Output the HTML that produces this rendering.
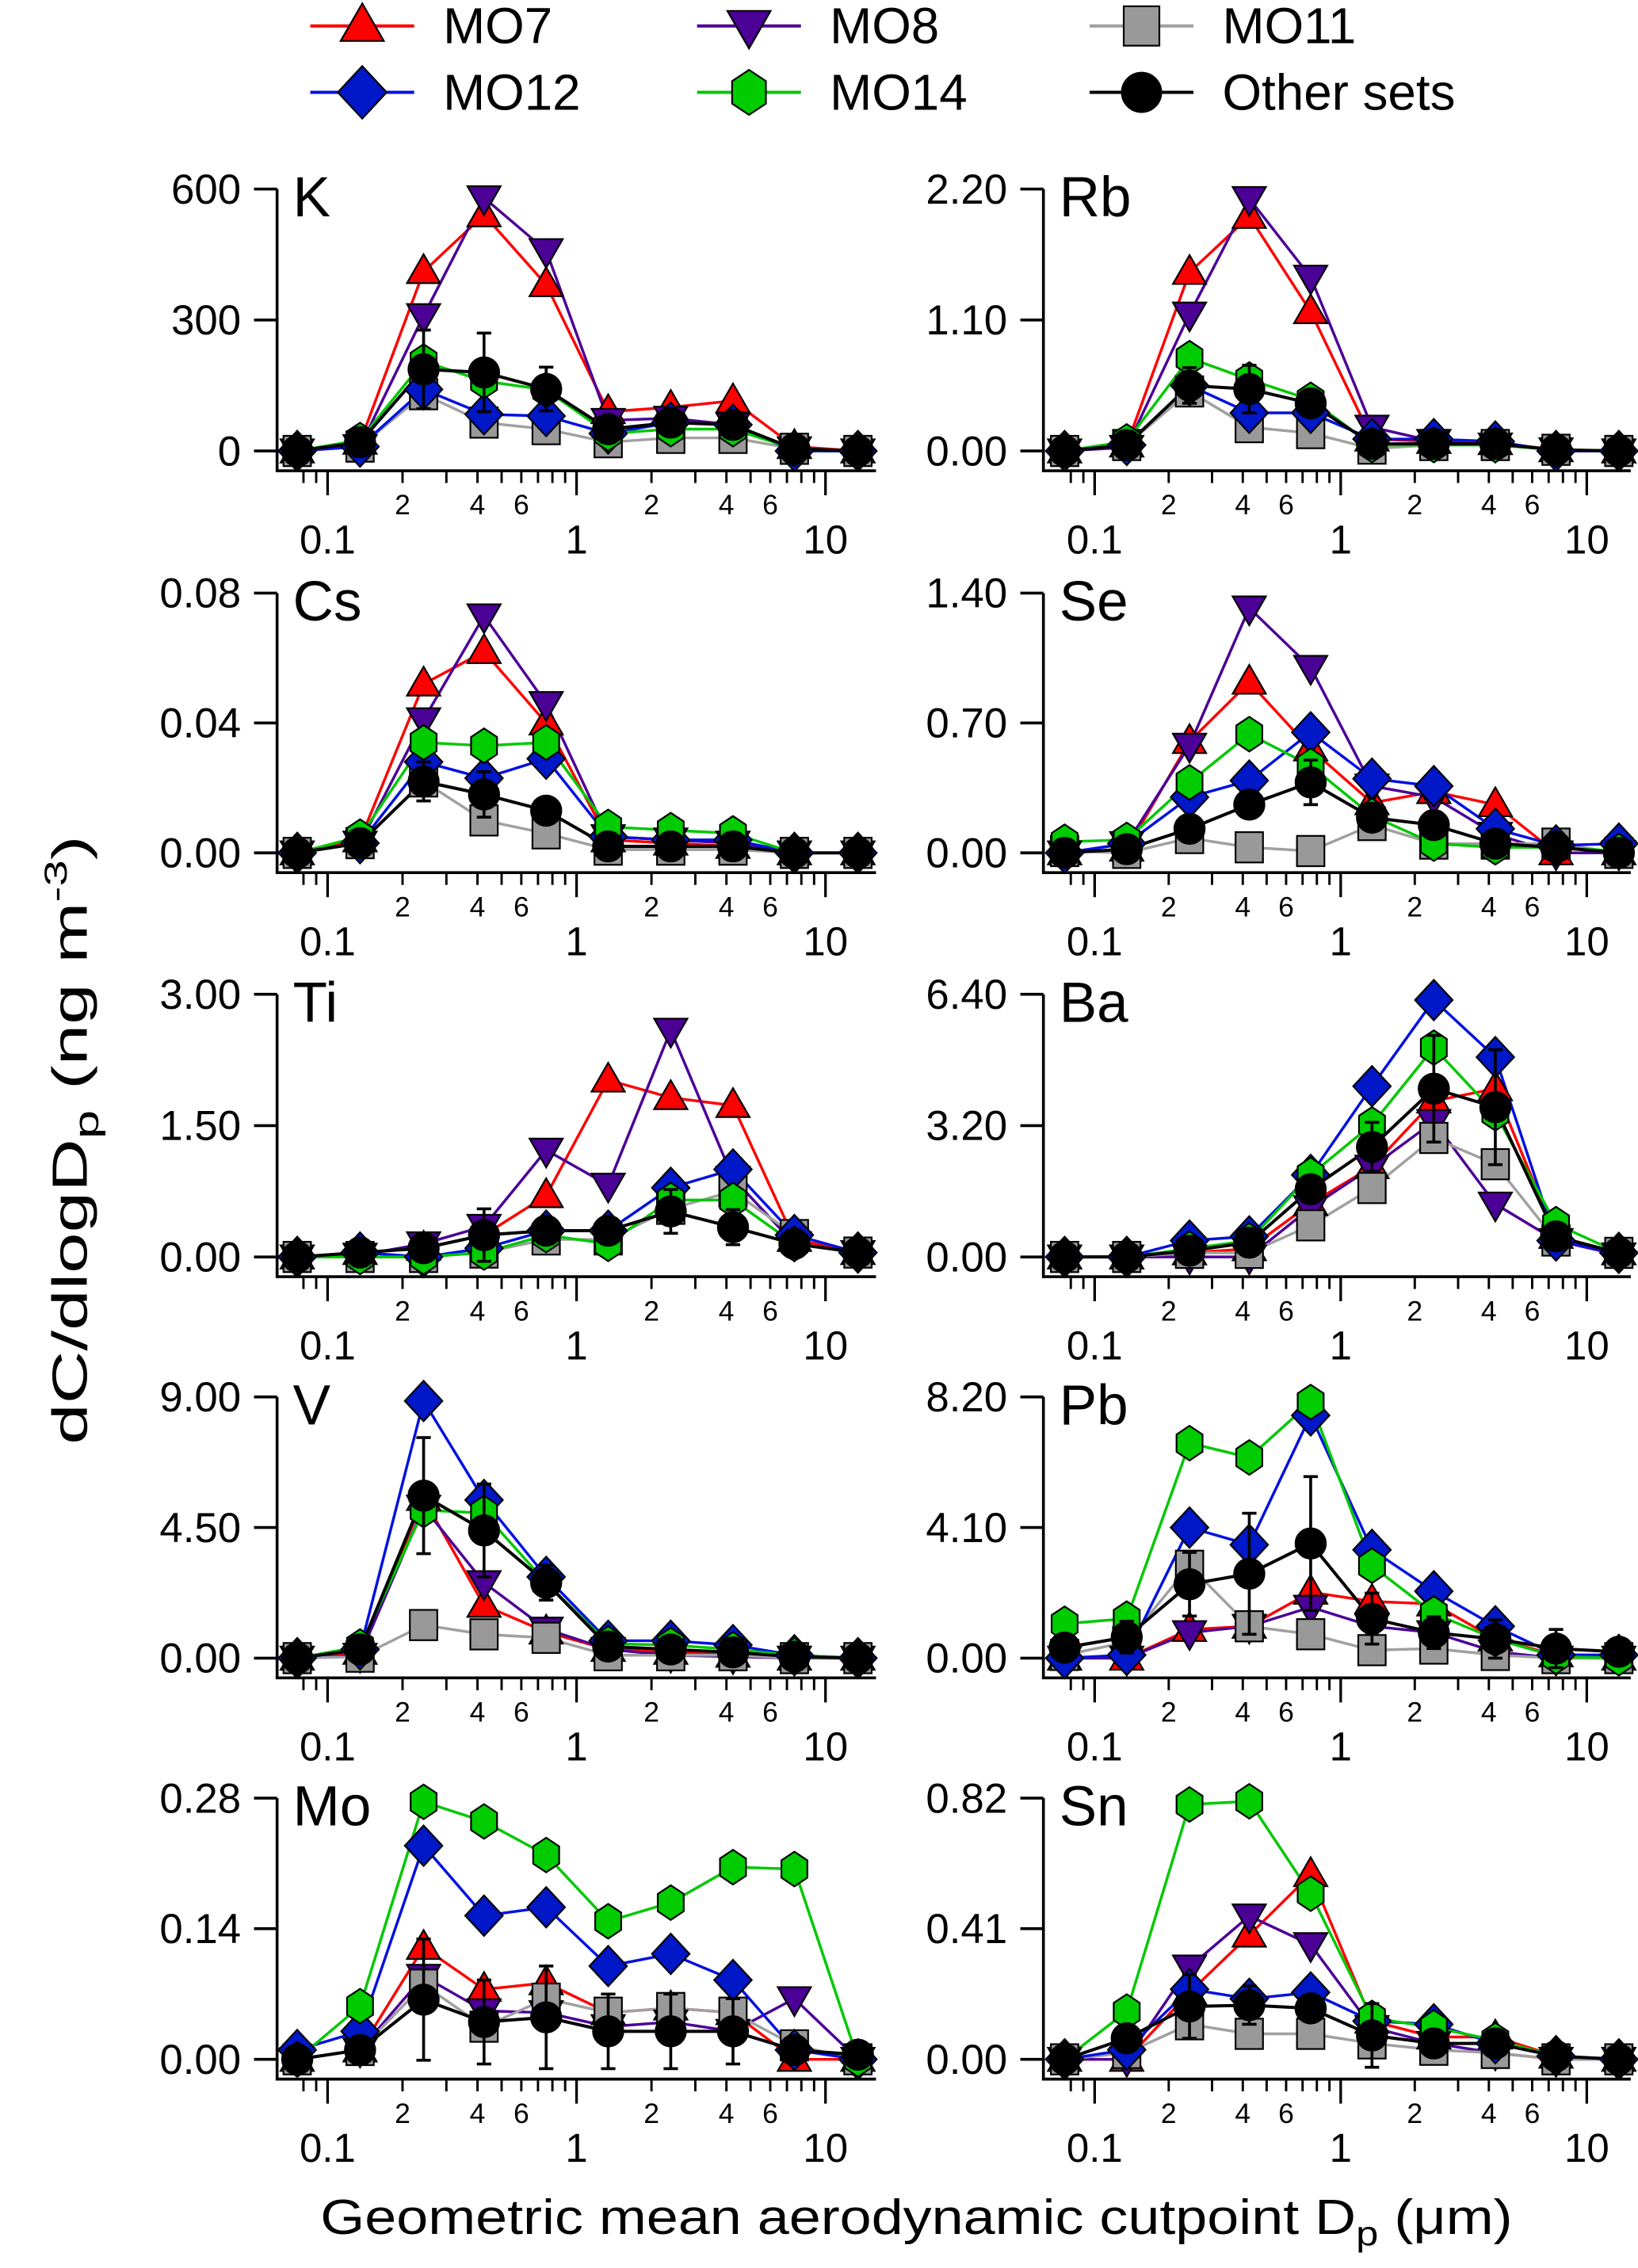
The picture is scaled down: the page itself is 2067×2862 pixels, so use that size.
<!DOCTYPE html>
<html><head><meta charset="utf-8"><title>Size distributions</title>
<style>html,body{margin:0;padding:0;background:#fff}svg{display:block}text{font-family:"Liberation Sans",Arial,sans-serif}</style>
</head><body>
<svg id="fig" xmlns="http://www.w3.org/2000/svg" width="2067" height="2862" viewBox="0 0 1135 1571.6" preserveAspectRatio="none">
<g id="legend"></g>
<g id="panels"></g>
<text transform="translate(60,790) rotate(-90)" text-anchor="middle" font-size="34" textLength="422" lengthAdjust="spacingAndGlyphs">dC/dlogD<tspan font-size="24" dy="8">p</tspan><tspan dy="-8"> (ng m</tspan><tspan font-size="22" dy="-14">-3</tspan><tspan dy="14">)</tspan></text>
<text x="635" y="1548" text-anchor="middle" font-size="34" textLength="826" lengthAdjust="spacingAndGlyphs">Geometric mean aerodynamic cutpoint D<tspan font-size="24" dy="8">p</tspan><tspan dy="-8"> (μm)</tspan></text>
</svg>
<script>
const dp = [0.0755,0.135,0.243,0.425,0.755,1.34,2.39,4.25,7.5,13.5];
const seriesNames = ['MO7','MO8','MO11','MO12','MO14','Other sets'];

const K_MO7 = [0,20,411,541,381,90,100,115,10,0];
const K_MO8 = [0,10,310,580,459,70,75,60,5,0];
const K_MO11 = [0,10,130,65,50,20,30,30,5,0];
const K_MO12 = [0,10,141,84,80,40,65,60,0,0];
const K_MO14 = [0,25,205,160,140,40,50,50,5,0];
const K_OTH = [0,20,187,180,142,50,65,60,5,0];
const K_ERR = [0,0,90,90,50,0,0,0,0,0];

const Rb_MO7 = [0,0.05,1.5,1.97,1.17,0.1,0.08,0.07,0.01,0];
const Rb_MO8 = [0,0.03,1.15,2.12,1.46,0.2,0.08,0.05,0.01,0];
const Rb_MO11 = [0,0.05,0.5,0.2,0.15,0.02,0.05,0.05,0.01,0];
const Rb_MO12 = [0,0.05,0.55,0.32,0.32,0.1,0.1,0.08,0,0];
const Rb_MO14 = [0,0.08,0.78,0.6,0.43,0.05,0.05,0.05,0.01,0];
const Rb_OTH = [0,0.05,0.55,0.52,0.4,0.06,0.06,0.06,0.01,0];
const Rb_ERR = [0,0,0.15,0.2,0,0,0,0,0,0];

const Cs_MO7 = [0,0.004,0.052,0.062,0.04,0.004,0.003,0.002,0,0];
const Cs_MO8 = [0,0.003,0.041,0.073,0.046,0.005,0.004,0.003,0,0];
const Cs_MO11 = [0,0.003,0.022,0.010,0.006,0.001,0.001,0.001,0,0];
const Cs_MO12 = [0,0.003,0.028,0.023,0.029,0.005,0.004,0.004,0,0];
const Cs_MO14 = [0,0.005,0.034,0.033,0.034,0.008,0.007,0.006,0,0];
const Cs_OTH = [0,0.003,0.022,0.018,0.013,0.002,0.002,0.002,0,0];
const Cs_ERR = [0,0,0.006,0.007,0,0,0,0,0,0];

const Se_MO7 = [0,0.02,0.6,0.92,0.56,0.27,0.33,0.26,0,0];
const Se_MO8 = [0,0.05,0.58,1.32,1.0,0.36,0.3,0.1,0,0];
const Se_MO11 = [0.01,0,0.08,0.03,0.01,0.15,0.05,0.05,0.05,0];
const Se_MO12 = [0,0.05,0.3,0.39,0.65,0.4,0.36,0.13,0.04,0.05];
const Se_MO14 = [0.06,0.07,0.38,0.64,0.47,0.2,0.05,0.03,0.03,0.01];
const Se_OTH = [0,0.02,0.13,0.26,0.38,0.19,0.15,0.05,0.03,0];
const Se_ERR = [0,0,0,0,0.12,0,0,0,0,0];

const Ti_MO7 = [0,0.05,0.1,0.25,0.7,2.02,1.82,1.73,0.2,0.05];
const Ti_MO8 = [0,0.02,0.15,0.35,1.22,0.82,2.59,0.9,0.15,0.05];
const Ti_MO11 = [0,0,0,0.05,0.2,0.2,0.55,0.75,0.25,0.05];
const Ti_MO12 = [0,0.05,0,0.1,0.3,0.3,0.79,1.0,0.25,0.05];
const Ti_MO14 = [0,0,0,0.05,0.25,0.15,0.65,0.65,0.15,0.05];
const Ti_OTH = [0,0.05,0.1,0.25,0.3,0.3,0.52,0.34,0.15,0.05];
const Ti_ERR = [0,0,0,0.3,0.1,0.1,0.25,0.2,0,0];

const Ba_MO7 = [0,0,0.1,0.2,1.3,2.2,3.8,4.1,0.5,0.1];
const Ba_MO8 = [0,0,0,0,1.2,2.19,3.3,1.29,0.4,0.05];
const Ba_MO11 = [0,0,0.1,0.1,0.77,1.68,2.9,2.26,0.4,0.1];
const Ba_MO12 = [0,0,0.4,0.5,2.0,4.16,6.26,4.87,0.4,0.1];
const Ba_MO14 = [0,0,0.2,0.4,2.0,3.23,5.1,3.5,0.8,0.1];
const Ba_OTH = [0,0,0.15,0.35,1.65,2.68,4.1,3.65,0.5,0.1];
const Ba_ERR = [0,0,0,0,0,0.6,1.3,1.4,0,0];

const V_MO7 = [0,0.2,5.5,1.82,0.9,0.3,0.2,0.1,0,0];
const V_MO8 = [0,0.1,5.2,2.6,1.0,0.3,0.1,0.05,0,0];
const V_MO11 = [0,0.05,1.14,0.82,0.7,0.1,0.1,0.1,0,0];
const V_MO12 = [0,0.3,8.86,5.45,2.8,0.6,0.6,0.45,0.1,0];
const V_MO14 = [0,0.4,5.1,5.0,2.6,0.5,0.45,0.3,0.1,0];
const V_OTH = [0,0.3,5.6,4.4,2.6,0.4,0.3,0.2,0.05,0];
const V_ERR = [0,0,2.0,1.6,0.6,0,0,0,0,0];

const Pb_MO7 = [0,0,0.9,1.0,2.07,1.78,1.7,0.6,0.1,0];
const Pb_MO8 = [0,0,0.8,1.0,1.6,1.0,0.8,0.2,0,0];
const Pb_MO11 = [0.1,0.5,2.9,1.0,0.75,0.25,0.3,0.1,0,0];
const Pb_MO12 = [0,0.1,4.1,3.56,7.62,3.4,2.1,1.0,0.1,0.1];
const Pb_MO14 = [1.08,1.24,6.75,6.3,8.04,2.9,1.4,0.6,0.05,0];
const Pb_OTH = [0.33,0.66,2.32,2.65,3.6,1.24,0.8,0.6,0.3,0.2];
const Pb_ERR = [0,0.5,1.0,1.9,2.1,0.8,0.5,0.6,0.6,0];

const Mo_MO7 = [0,0.01,0.12,0.075,0.082,0.05,0.055,0.05,0,0];
const Mo_MO8 = [0,0.01,0.089,0.052,0.05,0.035,0.04,0.03,0.065,0];
const Mo_MO11 = [0,0.01,0.08,0.035,0.065,0.05,0.055,0.05,0.015,0];
const Mo_MO12 = [0.01,0.03,0.229,0.154,0.163,0.1,0.113,0.085,0.01,0];
const Mo_MO14 = [0,0.057,0.276,0.255,0.219,0.148,0.168,0.206,0.204,0];
const Mo_OTH = [0,0.01,0.064,0.04,0.045,0.03,0.03,0.03,0.01,0.005];
const Mo_ERR = [0,0,0.065,0.045,0.055,0.04,0.04,0.035,0,0];

const Sn_MO7 = [0,0,0.21,0.39,0.58,0.12,0.07,0.07,0.01,0];
const Sn_MO8 = [0,0,0.29,0.45,0.36,0.1,0.05,0.02,0,0];
const Sn_MO11 = [0,0.02,0.11,0.08,0.08,0.05,0.03,0.02,0,0];
const Sn_MO12 = [0,0.03,0.22,0.19,0.21,0.12,0.11,0.05,0.01,0];
const Sn_MO14 = [0,0.15,0.8,0.81,0.52,0.13,0.1,0.06,0.01,0];
const Sn_OTH = [0,0.066,0.166,0.17,0.16,0.075,0.05,0.05,0.01,0];
const Sn_ERR = [0,0,0.1,0.06,0,0.1,0,0,0,0];

const panelNames = ['K','Rb','Cs','Se','Ti','Ba','V','Pb','Mo','Sn'];
const panelMax = [600,2.2,0.08,1.4,3,6.4,9,8.2,0.28,0.82];
const tickLabels = [['0','300','600'],['0.00','1.10','2.20'],['0.00','0.04','0.08'],['0.00','0.70','1.40'],['0.00','1.50','3.00'],['0.00','3.20','6.40'],['0.00','4.50','9.00'],['0.00','4.10','8.20'],['0.00','0.14','0.28'],['0.00','0.41','0.82']];
const panelSeries = [
 [K_MO7,K_MO8,K_MO11,K_MO12,K_MO14,K_OTH],[Rb_MO7,Rb_MO8,Rb_MO11,Rb_MO12,Rb_MO14,Rb_OTH],
 [Cs_MO7,Cs_MO8,Cs_MO11,Cs_MO12,Cs_MO14,Cs_OTH],[Se_MO7,Se_MO8,Se_MO11,Se_MO12,Se_MO14,Se_OTH],
 [Ti_MO7,Ti_MO8,Ti_MO11,Ti_MO12,Ti_MO14,Ti_OTH],[Ba_MO7,Ba_MO8,Ba_MO11,Ba_MO12,Ba_MO14,Ba_OTH],
 [V_MO7,V_MO8,V_MO11,V_MO12,V_MO14,V_OTH],[Pb_MO7,Pb_MO8,Pb_MO11,Pb_MO12,Pb_MO14,Pb_OTH],
 [Mo_MO7,Mo_MO8,Mo_MO11,Mo_MO12,Mo_MO14,Mo_OTH],[Sn_MO7,Sn_MO8,Sn_MO11,Sn_MO12,Sn_MO14,Sn_OTH]];
const panelErr = [K_ERR,Rb_ERR,Cs_ERR,Se_ERR,Ti_ERR,Ba_ERR,V_ERR,Pb_ERR,Mo_ERR,Sn_ERR];
const majorTicks = [0.1,1,10];
const minorTicks = [0.08,0.09,0.2,0.3,0.4,0.5,0.6,0.7,0.8,0.9,2,3,4,5,6,7,8,9];
const minorLabels = [0.2,0.4,0.6,2,4,6];

const NS='http://www.w3.org/2000/svg';
const COLX0=[192,723], COLX01=[227,758.5], COLDEC=[172.5,170.5], COLEND=[607,1130];
const ROWTOP=[131,411,689,968,1246], ROWZERO=[312.5,591,871,1149,1427];
const lineCol=['#ff0000','#4b0096','#a0a0a0','#0010e0','#00c800','#000000'];
const fillCol=['#ff0000','#4b0096','#999999','#0018c8','#00cc00','#000000'];
const shapes=['tri','tridown','square','diamond','hex','circle'];

function mk(tag,parent){const e=document.createElementNS(NS,tag);parent.appendChild(e);return e;}
function xs(c,d){return COLX01[c]+Math.log10(d/0.1)*COLDEC[c];}
function ys(r,max,v){return ROWZERO[r]-v/max*(ROWZERO[r]-ROWTOP[r]);}
function marker(parent,shape,x,y,fill,s){
  let e;
  if(shape==='circle'){e=mk('ellipse',parent);e.setAttribute('cx',x);e.setAttribute('cy',y);e.setAttribute('rx',10.5*s);e.setAttribute('ry',10.5*s);}
  else if(shape==='square'){e=mk('rect',parent);e.setAttribute('x',x-9.5*s);e.setAttribute('y',y-10.5*s);e.setAttribute('width',19*s);e.setAttribute('height',21*s);}
  else{
    let p;
    if(shape==='tri')p=[[0,-12],[-11.5,8],[11.5,8]];
    else if(shape==='tridown')p=[[-11.5,-8],[11.5,-8],[0,12]];
    else if(shape==='diamond')p=[[0,-14],[13,0],[0,14],[-13,0]];
    else p=[[0,-12],[9,-6],[9,6],[0,12],[-9,6],[-9,-6]];
    e=mk('polygon',parent);e.setAttribute('points',p.map(q=>(x+q[0]*s)+','+(y+q[1]*s)).join(' '));
  }
  e.setAttribute('fill',fill);e.setAttribute('stroke','#000');e.setAttribute('stroke-width','1.2');
  return e;
}

const panelsG=document.getElementById('panels');
panelNames.forEach((nm,i)=>{
  const c=i%2, r=Math.floor(i/2), max=panelMax[i];
  const g=mk('g',panelsG);
  
  
  const axY=ROWZERO[r]+13.7;
  const ya=mk('path',g);
  
  
  ya.setAttribute('d',`M${COLX0[c]},${ROWTOP[r]}V${axY}H${COLEND[c]}`);
  ya.setAttribute('stroke','#000');ya.setAttribute('stroke-width','2');ya.setAttribute('fill','none');
  [0,max/2,max].forEach((v,k)=>{
    const y=ys(r,max,v);
    const t=mk('line',g);t.setAttribute('x1',COLX0[c]-16);t.setAttribute('x2',COLX0[c]);t.setAttribute('y1',y);t.setAttribute('y2',y);t.setAttribute('stroke','#000');t.setAttribute('stroke-width','2');
    const tx=mk('text',g);
    
    
    tx.setAttribute('x',COLX0[c]-25);tx.setAttribute('y',y+10);tx.setAttribute('text-anchor','end');tx.setAttribute('font-size','29');
    tx.textContent=tickLabels[i][k];
  });
  majorTicks.forEach(d=>{
    const x=xs(c,d);
    const t=mk('line',g);t.setAttribute('x1',x);t.setAttribute('x2',x);t.setAttribute('y1',axY);t.setAttribute('y2',axY+17);t.setAttribute('stroke','#000');t.setAttribute('stroke-width','1.8');
    const tx=mk('text',g);
    
    
    tx.setAttribute('x',x);tx.setAttribute('y',ROWZERO[r]+71);tx.setAttribute('text-anchor','middle');tx.setAttribute('font-size','28');
    tx.textContent=String(d);
  });
  minorTicks.forEach(d=>{
    const x=xs(c,d);
    const t=mk('line',g);t.setAttribute('x1',x);t.setAttribute('x2',x);t.setAttribute('y1',axY);t.setAttribute('y2',axY+8.5);t.setAttribute('stroke','#000');t.setAttribute('stroke-width','1.6');
  });
  minorLabels.forEach(d=>{
    const tx=mk('text',g);
    
    
    tx.setAttribute('x',xs(c,d));tx.setAttribute('y',ROWZERO[r]+44);tx.setAttribute('text-anchor','middle');tx.setAttribute('font-size','19.5');
    tx.textContent=String(d<1?Math.round(d*10):d);
  });
  const lbl=mk('text',g);
  
  
  lbl.setAttribute('x',COLX0[c]+11);lbl.setAttribute('y',ROWTOP[r]+19);lbl.setAttribute('font-size','39');
  lbl.textContent=nm;
  const sers=panelSeries[i];
  sers.forEach((vals,s)=>{
    const pl=mk('polyline',g);
    
    
    pl.setAttribute('points',vals.map((v,k)=>xs(c,dp[k])+','+ys(r,max,v)).join(' '));
    pl.setAttribute('fill','none');pl.setAttribute('stroke',lineCol[s]);pl.setAttribute('stroke-width',s===5?'2.2':'1.9');
  });
  sers.forEach((vals,s)=>{
    if(s===5){
      panelErr[i].forEach((e,k)=>{
        if(!e)return;
        const x=xs(c,dp[k]), y1=ys(r,max,vals[k]+e), y2=ys(r,max,vals[k]-e);
        const eb=mk('path',g);
        
        
        eb.setAttribute('d',`M${x},${y1}V${y2}M${x-5},${y1}H${x+5}M${x-5},${y2}H${x+5}`);
        eb.setAttribute('stroke','#000');eb.setAttribute('stroke-width','2');eb.setAttribute('fill','none');
      });
    }
    vals.forEach((v,k)=>{
      const m=marker(g,shapes[s],xs(c,dp[k]),ys(r,max,v),fillCol[s],1);
      
      
    });
  });
});

const leg=document.getElementById('legend');
const legX=[215,483,755], legY=[18,64];
seriesNames.forEach((n,s)=>{
  const col=s%3,row=Math.floor(s/3);
  const g=mk('g',leg);
  
  
  const l=mk('line',g);l.setAttribute('x1',legX[col]);l.setAttribute('x2',legX[col]+72);l.setAttribute('y1',legY[row]);l.setAttribute('y2',legY[row]);l.setAttribute('stroke',lineCol[s]);l.setAttribute('stroke-width','2.2');
  marker(g,shapes[s],legX[col]+36,legY[row],fillCol[s],1.3);
  const t=mk('text',g);
  t.setAttribute('x',legX[col]+92);t.setAttribute('y',legY[row]+12);t.setAttribute('font-size','35');
  t.textContent=n;
});
</script>
</body></html>
